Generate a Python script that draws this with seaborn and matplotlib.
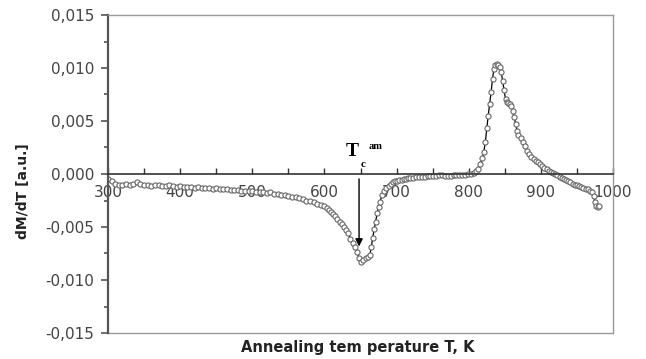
import matplotlib
matplotlib.use('Agg')
import matplotlib.pyplot as plt
import seaborn as sns
import pandas as pd
from matplotlib.ticker import MultipleLocator, FuncFormatter

# ---------------- data ----------------
temp_a = [300, 305, 310, 315, 320, 325, 330, 335, 340, 345, 350, 355, 360, 365, 370,
          375, 380, 385, 390, 395, 400, 405, 410, 415, 420, 425, 430, 435, 440, 445,
          450, 455, 460, 465, 470, 475, 480, 485, 490, 495, 500, 505, 510, 515, 520,
          525, 530, 535, 540, 545, 550, 555, 560, 565, 570, 575, 580, 585, 590, 595, 600]
dmdt_a = [-0.0005, -0.0007, -0.0009, -0.0010, -0.0010, -0.0009, -0.0010, -0.0009, -0.0008,
          -0.0009, -0.0010, -0.0010, -0.0011, -0.0010, -0.0010, -0.0011, -0.0011, -0.0010,
          -0.0011, -0.0012, -0.0011, -0.0012, -0.0012, -0.0012, -0.0013, -0.0012, -0.0013,
          -0.0013, -0.0013, -0.0014, -0.0013, -0.0014, -0.0014, -0.0014, -0.0015, -0.0015,
          -0.0015, -0.0016, -0.0016, -0.0016, -0.0016, -0.0017, -0.0017, -0.0017, -0.0018,
          -0.0017, -0.0019, -0.0019, -0.0020, -0.0020, -0.0021, -0.0022, -0.0022, -0.0023,
          -0.0024, -0.0025, -0.0025, -0.0026, -0.0028, -0.0029, -0.0030]

temp_b = [603, 606, 609, 612, 615, 618, 621, 624, 627, 630, 633, 636, 639, 642, 645, 648,
          651, 654, 657, 660, 663, 665, 667, 669, 671, 673, 675, 677, 680, 683, 686, 689,
          692, 695, 698, 701, 704, 707, 710, 713, 716, 719]
dmdt_b = [-0.0032, -0.0034, -0.0036, -0.0038, -0.0040, -0.0042, -0.0045, -0.0047, -0.0050,
          -0.0053, -0.0056, -0.0061, -0.0065, -0.0069, -0.0074, -0.0079, -0.0083, -0.0081,
          -0.0079, -0.0078, -0.0076, -0.0069, -0.0060, -0.0052, -0.0045, -0.0037, -0.0031,
          -0.0026, -0.0020, -0.0016, -0.0013, -0.0011, -0.0009, -0.0008, -0.0007, -0.0007,
          -0.0006, -0.0006, -0.0005, -0.0005, -0.0004, -0.0004]

temp_c = [723, 727, 731, 735, 739, 743, 747, 751, 755, 759, 763, 767, 771, 775, 779, 783,
          787, 791, 795, 799, 803, 807]
dmdt_c = [-0.0004, -0.0003, -0.0003, -0.0003, -0.0003, -0.0002, -0.0002, -0.0002, -0.0002,
          -0.0001, -0.0001, -0.0002, -0.0002, -0.0002, -0.0001, -0.0001, -0.0001, -0.0001,
          -0.0001, 0.0000, 0.0000, 0.0001]

temp_d = [810, 813, 816, 819, 821, 823, 825, 827, 829, 831, 833, 835, 837, 839, 841, 843,
          845, 847, 849, 851, 853, 855, 857, 859, 861, 863, 865, 867, 869, 872, 875, 878,
          881, 884, 887, 890, 893, 896, 899, 902, 905, 908, 911, 914, 917, 920, 923, 926, 929]
dmdt_d = [0.0003, 0.0005, 0.0009, 0.0015, 0.0021, 0.0030, 0.0043, 0.0055, 0.0066, 0.0077,
          0.0090, 0.0099, 0.0103, 0.0104, 0.0103, 0.0101, 0.0096, 0.0088, 0.0079, 0.0071,
          0.0068, 0.0067, 0.0066, 0.0064, 0.0059, 0.0054, 0.0047, 0.0041, 0.0037, 0.0034,
          0.0030, 0.0026, 0.0022, 0.0019, 0.0016, 0.0014, 0.0012, 0.0011, 0.0009, 0.0008,
          0.0006, 0.0005, 0.0003, 0.0002, 0.0001, 0.0000, -0.0001, -0.0003, -0.0004]

temp_e = [932, 935, 938, 941, 944, 947, 950, 953, 956, 959, 962, 965, 968, 971, 973, 975,
          977, 979, 981]
dmdt_e = [-0.0005, -0.0006, -0.0007, -0.0008, -0.0009, -0.0010, -0.0010, -0.0011, -0.0012,
          -0.0013, -0.0014, -0.0014, -0.0016, -0.0017, -0.0021, -0.0026, -0.0030, -0.0031,
          -0.0030]

x_ticks = [300, 400, 500, 600, 700, 800, 900, 1000]
y_ticks = [-0.015, -0.010, -0.005, 0.000, 0.005, 0.010, 0.015]
tc_temperature = 648
x_label = "Annealing tem perature T, K"
y_label = "dM/dT [a.u.]"

# ---------------- figure ----------------
sns.set_theme(style='white')
plt.rcParams['font.family'] = ['DejaVu Sans']

df = pd.DataFrame({'T': temp_a + temp_b + temp_c + temp_d + temp_e,
                   'dMdT': dmdt_a + dmdt_b + dmdt_c + dmdt_d + dmdt_e})

fig = plt.figure(figsize=(6.46, 3.59), dpi=100)
ax = fig.add_axes([108 / 646, 26 / 359, (613 - 108) / 646, (333 - 15) / 359])
ax.set_facecolor('white')

sns.lineplot(data=df, x='T', y='dMdT', ax=ax, estimator=None, sort=False,
             color='black', lw=0.9, marker='o', markersize=3.7,
             markerfacecolor='white', markeredgecolor='#666666', markeredgewidth=0.8)

ax.set_xlim(300, 1000)
ax.set_ylim(-0.015, 0.015)

# spines
ax.spines['bottom'].set_position(('data', 0))
ax.spines['bottom'].set_color('#333333')
ax.spines['bottom'].set_linewidth(1.2)
ax.spines['left'].set_color('#555555')
ax.spines['left'].set_linewidth(1.6)
for s in ('top', 'right'):
    ax.spines[s].set_color('#999999')
    ax.spines[s].set_linewidth(1.0)
ax.plot([0, 1], [0, 0], transform=ax.transAxes, color='#999999', lw=1.0, clip_on=False)

# ticks
ax.set_xticks(x_ticks)
ax.xaxis.set_minor_locator(MultipleLocator(50))
ax.set_yticks(y_ticks)
ax.yaxis.set_minor_locator(MultipleLocator(0.0025))
ax.yaxis.set_major_formatter(FuncFormatter(lambda v, p: f"{v:.3f}".replace('.', ',').replace('-0,000', '0,000')))
ax.tick_params(axis='x', which='both', direction='in', length=4, width=1, color='#333333',
               labelsize=11, labelcolor='#444444', pad=8, bottom=True)
ax.tick_params(axis='y', which='major', direction='out', length=5, width=1.2, color='#555555',
               labelsize=11, labelcolor='#444444', pad=5, left=True)
ax.tick_params(axis='y', which='minor', direction='out', length=3, width=1.2, color='#555555', left=True)

ax.set_xlabel(x_label, fontsize=10.5, fontweight='bold', color='#222222')
ax.xaxis.set_label_coords(0.495, -0.022)
ax.set_ylabel(y_label, fontsize=10, fontweight='bold', color='#222222')
ax.yaxis.set_label_coords(-0.155, 0.445)

# annotation arrow and label
ax.annotate('', xy=(tc_temperature, -0.0071), xytext=(tc_temperature, -0.0002),
            arrowprops=dict(arrowstyle='-|>', color='black', lw=1.0, mutation_scale=11))
ax.text(638, 0.0021, 'T', fontfamily='Liberation Serif', fontweight='bold', fontsize=14,
        ha='center', va='center', color='black')
ax.text(653, 0.0009, 'c', fontfamily='Liberation Serif', fontweight='bold', fontsize=8,
        ha='center', va='center', color='black')
ax.text(671, 0.0026, 'am', fontfamily='Liberation Serif', fontweight='bold', fontsize=7.5,
        ha='center', va='center', color='black')

fig.savefig('out.png', dpi=100, facecolor='white')
